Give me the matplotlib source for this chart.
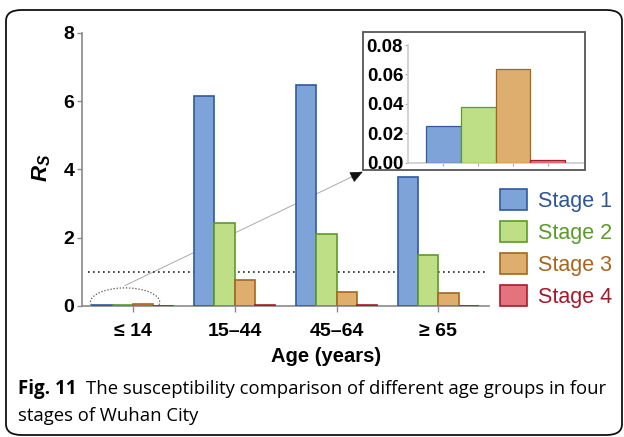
import matplotlib
matplotlib.use("Agg")
import matplotlib.pyplot as plt
import numpy as np
from matplotlib.patches import Rectangle, Ellipse, FancyBboxPatch

plt.rcParams['font.family'] = ['Liberation Sans', 'DejaVu Sans']
plt.rcParams['mathtext.fontset'] = 'custom'
plt.rcParams['mathtext.it'] = 'Liberation Sans:italic:bold'
plt.rcParams['mathtext.rm'] = 'Liberation Sans:bold'

# ---- data ----
age_groups = ["\u2264 14", "15\u201344", "45\u201364", "\u2265 65"]
stages = ["Stage 1", "Stage 2", "Stage 3", "Stage 4"]
stage1 = [0.025, 6.15, 6.46, 3.77]
stage2 = [0.038, 2.42, 2.10, 1.49]
stage3 = [0.064, 0.76, 0.41, 0.38]
stage4 = [0.002, 0.03, 0.03, 0.01]
threshold = 1.0
main_yticks = [0, 2, 4, 6, 8]
inset_yticks = [0.00, 0.02, 0.04, 0.06, 0.08]
caption_bold = "Fig. 11"
caption_rest = "The susceptibility comparison of different age groups in four"
caption_line2 = "stages of Wuhan City"

faces = ["#7EA3D8", "#BFDF87", "#DEAE6E", "#E5737E"]
edges = ["#2E5AA0", "#5C9A2A", "#A5671E", "#A51C2C"]
textcols = ["#2F5597", "#5C9A2A", "#A8651E", "#A31A2A"]

W, H = 624, 437
fig = plt.figure(figsize=(W / 100, H / 100), dpi=100)

def fx(px):
    return px / W

def fy(py):
    return 1 - py / H

# outer rounded frame
frame = FancyBboxPatch((fx(6), fy(435)), fx(616), fy(10) - fy(435),
                       boxstyle="round,pad=0,rounding_size=0.025",
                       transform=fig.transFigure, fill=False,
                       edgecolor="#111111", linewidth=1.3, zorder=0)
fig.add_artist(frame)

# ---- main axes ----
ax = fig.add_axes([fx(82), fy(306), fx(489.3) - fx(82), fy(32.7) - fy(306)])
series = [stage1, stage2, stage3, stage4]
x = np.arange(len(age_groups))
bw = 0.2
for i, vals in enumerate(series):
    ax.bar(x + (i - 1.5) * bw, vals, width=bw, color=faces[i],
           edgecolor=edges[i], linewidth=1.2, zorder=3)

ax.set_xlim(-0.5, 3.5)
ax.set_ylim(0, 8)
ax.set_yticks(main_yticks)
ax.set_yticklabels([str(v) for v in main_yticks], fontsize=14, fontweight='bold')
ax.set_xticks(x)
ax.set_xticklabels(age_groups, fontsize=14, fontweight='bold')
for s in ['top', 'right']:
    ax.spines[s].set_visible(False)
for s in ['left', 'bottom']:
    ax.spines[s].set_color('#8a8a8a')
    ax.spines[s].set_linewidth(1.2)
ax.tick_params(axis='y', length=3.5, width=1, color='#8a8a8a', pad=2)
ax.tick_params(axis='x', length=4, width=1, color='#8a8a8a', pad=8)

ax.axhline(threshold, xmin=0.015, xmax=0.993, color='#222222',
           linestyle=(0, (1, 2)), linewidth=1.2, zorder=2)

# ellipse around small group
ell = Ellipse((-0.077, 0.11), 0.68, 0.84, fill=False, edgecolor='#555555',
              linestyle=(0, (1, 1.5)), linewidth=0.9, zorder=4)
ax.add_patch(ell)

# connector line (behind bars) and arrow head
ax.plot([-0.077, 2.2], [0.6, 3.85], color='#aaaaaa', linewidth=0.7, zorder=1.5)
ax.annotate("", xy=(2.258, 3.93), xytext=(2.15, 3.77),
            arrowprops=dict(arrowstyle="-|>,head_length=0.8,head_width=0.35",
                            color='#111111', lw=0.5, shrinkA=0, shrinkB=0))

fig.text(fx(42), fy(168), r"$R_S$", rotation=90, fontsize=16,
         ha='center', va='center')
fig.text(fx(326), fy(356), "Age (years)", fontsize=14.5, fontweight='bold',
         ha='center', va='center')

# ---- legend ----
handles = [Rectangle((0, 0), 1, 1, facecolor=faces[i], edgecolor=edges[i],
                     linewidth=1.2) for i in range(4)]
leg = fig.legend(handles, stages, loc='upper left',
                 bbox_to_anchor=(fx(491), fy(180)), frameon=False,
                 fontsize=15.5, handlelength=1.25, handleheight=1.15,
                 handletextpad=0.55, labelspacing=0.42, borderaxespad=0)
for t, c in zip(leg.get_texts(), textcols):
    t.set_color(c)

# ---- inset ----
box = Rectangle((fx(363.3), fy(170)), fx(585.3) - fx(363.3), fy(32.3) - fy(170),
                transform=fig.transFigure, facecolor='white',
                edgecolor='#555555', linewidth=1.3, zorder=5)
fig.add_artist(box)
ins = fig.add_axes([fx(408.3), fy(162.7), fx(582.7) - fx(408.3), fy(45) - fy(162.7)])
ins.set_zorder(6)
ins.patch.set_alpha(0)
xi = np.arange(len(stages))
small = [s[0] for s in series]
ins.bar(xi, small, width=1.0, color=faces, edgecolor=edges, linewidth=0.9, zorder=3)
ins.set_xlim(-1, 4)
ins.set_ylim(0, 0.08)
ins.set_yticks(inset_yticks)
ins.set_yticklabels(["%.2f" % v for v in inset_yticks], fontsize=13.5, fontweight='bold')
ins.set_xticks(xi)
ins.set_xticklabels([])
for s in ['top', 'right']:
    ins.spines[s].set_visible(False)
for s in ['left', 'bottom']:
    ins.spines[s].set_color('#cccccc')
    ins.spines[s].set_linewidth(1.2)
ins.tick_params(axis='both', length=2.5, width=0.8, color='#aaaaaa', pad=1.2)

# ---- caption ----
fig.text(fx(18), fy(389), caption_bold, fontsize=13.5, fontweight='bold',
         family=['Open Sans', 'DejaVu Sans'], va='center', ha='left')
fig.text(fx(86), fy(389), caption_rest, fontsize=13.3,
         family=['Open Sans', 'DejaVu Sans'], va='center', ha='left')
fig.text(fx(18), fy(416), caption_line2, fontsize=13.3,
         family=['Open Sans', 'DejaVu Sans'], va='center', ha='left')

fig.savefig("out.png", dpi=100)
